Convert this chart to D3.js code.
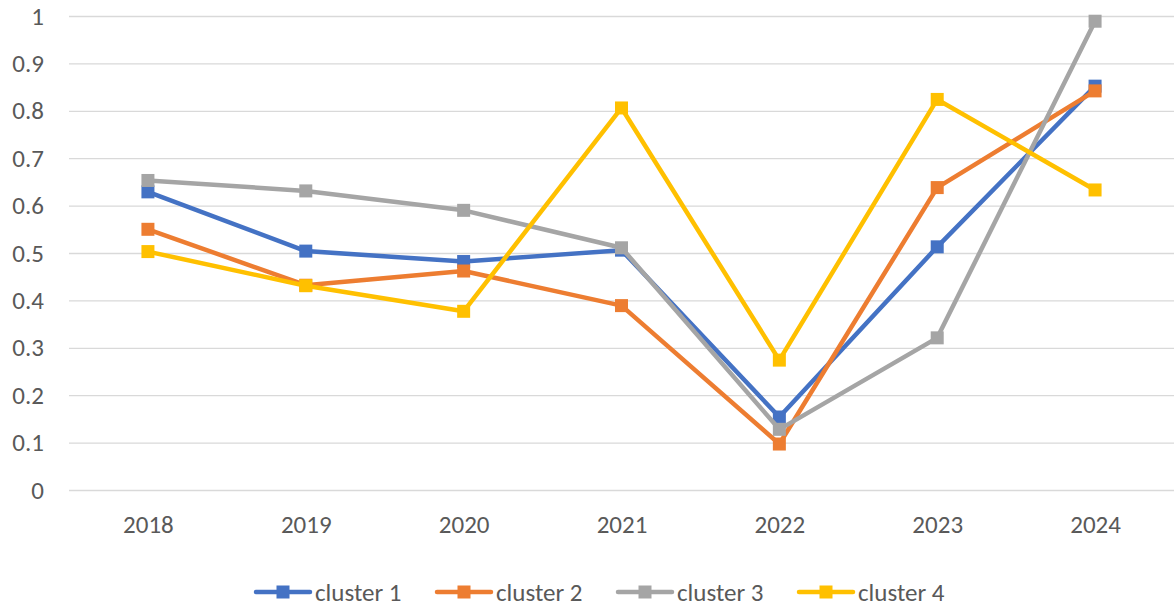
<!DOCTYPE html>
<html>
<head>
<meta charset="utf-8">
<script src="https://cdn.jsdelivr.net/npm/d3@7"></script>
<style>
  body { margin: 0; background: #fff; }
  svg text { font-family: Calibri, Carlito, Lato, "Open Sans", sans-serif; fill: #595959; font-weight: 300; }
</style>
</head>
<body>
<div class="line-chart"></div>
<script>
// frame size
let FRAME_WIDTH = 1174;
let FRAME_HEIGHT = 608;
let MARGINS = {left: 69, right: 0, top: 16, bottom: 118};

// chart data
const years = ["2018", "2019", "2020", "2021", "2022", "2023", "2024"];
const seriesNames = ["cluster 1", "cluster 2", "cluster 3", "cluster 4"];
const cluster1 = [0.629, 0.504, 0.482, 0.506, 0.154, 0.513, 0.852];
const cluster2 = [0.550, 0.432, 0.462, 0.389, 0.097, 0.638, 0.842];
const cluster3 = [0.653, 0.631, 0.590, 0.511, 0.128, 0.321, 0.989];
const cluster4 = [0.503, 0.431, 0.377, 0.806, 0.274, 0.824, 0.633];
const yTicks = [0, 0.1, 0.2, 0.3, 0.4, 0.5, 0.6, 0.7, 0.8, 0.9, 1];

const COLORS = ["#4472C4", "#ED7D31", "#A5A5A5", "#FFC000"];
const allSeries = [cluster1, cluster2, cluster3, cluster4];

let FRAME = d3.select(".line-chart")
  .append("svg")
  .attr("width", FRAME_WIDTH)
  .attr("height", FRAME_HEIGHT);

const PLOT_HEIGHT = 490 - MARGINS.top;
const FONT = "25px";

// scales
const xScale = d3.scalePoint()
  .domain(years)
  .range([MARGINS.left, FRAME_WIDTH - MARGINS.right])
  .padding(0.5);

const yScale = d3.scaleLinear()
  .domain([0, 1])
  .range([MARGINS.top + PLOT_HEIGHT, MARGINS.top]);

// gridlines + y labels
const yAxis = FRAME.append("g")
  .attr("transform", "translate(" + MARGINS.left + ",0)")
  .call(d3.axisLeft(yScale)
    .tickValues(yTicks)
    .tickSize(-(FRAME_WIDTH - MARGINS.left - MARGINS.right))
    .tickPadding(25)
    .tickFormat(d3.format("~g")));
yAxis.select(".domain").remove();
yAxis.selectAll("line").attr("stroke", "#d9d9d9").attr("stroke-width", 1.3);
yAxis.selectAll("text").attr("font-size", FONT);

// x labels
const xAxis = FRAME.append("g")
  .attr("transform", "translate(0," + yScale(0) + ")")
  .call(d3.axisBottom(xScale).tickSize(0).tickPadding(25));
xAxis.select(".domain").remove();
xAxis.selectAll("text").attr("font-size", FONT);

// lines
const line = d3.line()
  .x((d, i) => xScale(years[i]))
  .y(d => yScale(d));

const MARKER = 13;

allSeries.forEach(function(values, s) {
  FRAME.append("path")
    .datum(values)
    .attr("fill", "none")
    .attr("stroke", COLORS[s])
    .attr("stroke-width", 4.5)
    .attr("stroke-linejoin", "round")
    .attr("d", line);

  FRAME.selectAll(".marker" + s)
    .data(values)
    .enter()
    .append("rect")
    .attr("class", "marker" + s)
    .attr("x", (d, i) => xScale(years[i]) - MARKER / 2)
    .attr("y", d => yScale(d) - MARKER / 2)
    .attr("width", MARKER)
    .attr("height", MARKER)
    .attr("fill", COLORS[s]);
});

// legend
const legend = FRAME.append("g")
  .attr("transform", "translate(256,592)");

seriesNames.forEach(function(name, s) {
  let g = legend.append("g").attr("transform", "translate(" + (s * 181) + ",0)");
  g.append("line")
    .attr("x1", 0).attr("x2", 54)
    .attr("y1", 0).attr("y2", 0)
    .attr("stroke", COLORS[s])
    .attr("stroke-width", 4.5)
    .attr("stroke-linecap", "round");
  g.append("rect")
    .attr("x", 27 - MARKER / 2).attr("y", -MARKER / 2)
    .attr("width", MARKER).attr("height", MARKER)
    .attr("fill", COLORS[s]);
  g.append("text")
    .attr("x", 59)
    .attr("y", 0)
    .attr("dy", "0.35em")
    .attr("font-size", FONT)
    .text(name);
});
</script>
</body>
</html>
